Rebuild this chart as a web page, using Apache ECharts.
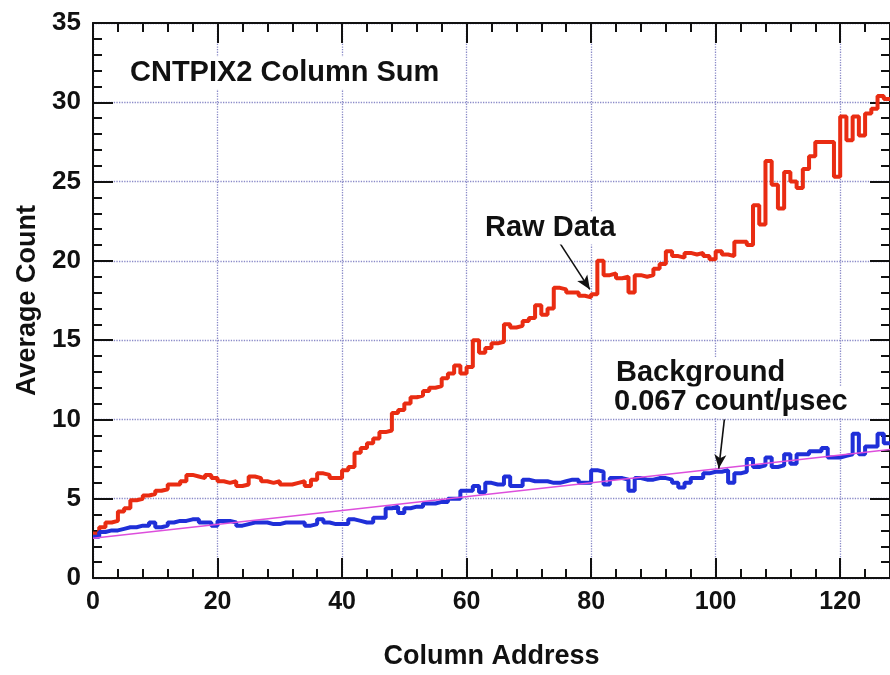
<!DOCTYPE html>
<html>
<head>
<meta charset="utf-8">
<script src="https://cdn.jsdelivr.net/npm/echarts@6/dist/echarts.min.js"></script>
<style>
  html, body { margin: 0; padding: 0; background: #ffffff; }
  #chart { width: 890px; height: 675px; }
</style>
</head>
<body>
<div id="chart"></div>
<script>
// Column index of each summed pixel column (0..127)
const columns = Array.from({ length: 128 }, (_, i) => i);

// Raw column sums (average count per column)
const rawCounts = [
  2.8, 3.2, 3.5, 3.6, 4.2, 4.4, 4.9, 5.0, 5.2, 5.3,
  5.5, 5.6, 5.9, 5.9, 6.1, 6.5, 6.4, 6.3, 6.5, 6.3,
  6.1, 6.0, 6.1, 5.8, 5.9, 6.4, 6.3, 6.1, 6.0, 6.1,
  5.9, 5.9, 6.0, 6.1, 5.8, 6.2, 6.6, 6.5, 6.3, 6.3,
  6.8, 7.0, 7.9, 8.2, 8.5, 8.8, 9.2, 9.3, 10.4, 10.6,
  11.0, 11.4, 11.5, 11.8, 12.0, 12.1, 12.6, 12.9, 13.4, 12.9,
  13.3, 15.0, 14.2, 14.5, 14.8, 14.9, 16.0, 15.8, 15.9, 16.2,
  16.4, 17.2, 16.6, 17.0, 18.3, 18.2, 18.0, 18.0, 17.8, 17.7,
  17.9, 20.0, 19.1, 19.2, 18.9, 19.0, 18.0, 19.1, 19.0, 19.1,
  19.5, 19.8, 20.6, 20.3, 20.2, 20.5, 20.4, 20.5, 20.3, 20.1,
  20.6, 20.4, 20.3, 21.2, 21.2, 21.0, 23.5, 22.3, 26.3, 24.8,
  23.3, 25.6, 25.0, 24.6, 25.8, 26.6, 27.5, 27.5, 27.5, 25.3,
  29.1, 27.6, 29.1, 27.9, 29.3, 29.6, 30.4, 30.2
];

// Background column sums
const backgroundCounts = [
  2.6, 2.9, 3.0, 3.0, 3.1, 3.2, 3.2, 3.3, 3.3, 3.5,
  3.2, 3.3, 3.5, 3.6, 3.6, 3.7, 3.7, 3.5, 3.5, 3.3,
  3.6, 3.6, 3.5, 3.3, 3.4, 3.5, 3.5, 3.5, 3.4, 3.4,
  3.5, 3.5, 3.5, 3.5, 3.3, 3.4, 3.7, 3.5, 3.4, 3.4,
  3.4, 3.7, 3.6, 3.5, 3.5, 3.8, 3.8, 4.4, 4.5, 4.1,
  4.4, 4.5, 4.5, 4.7, 4.7, 4.8, 4.8, 5.0, 5.0, 5.5,
  5.5, 5.8, 5.4, 6.0, 5.9, 5.9, 6.4, 5.8, 5.8, 6.2,
  6.1, 6.1, 6.1, 6.0, 6.0, 6.1, 6.2, 6.2, 6.0, 6.0,
  6.8, 6.7, 5.9, 6.3, 6.3, 6.2, 5.5, 6.3, 6.2, 6.2,
  6.3, 6.3, 6.2, 6.0, 5.7, 6.0, 6.3, 6.3, 6.6, 6.7,
  6.7, 6.8, 6.0, 6.6, 6.7, 7.5, 7.0, 7.1, 7.6, 7.0,
  7.1, 7.8, 7.2, 7.8, 7.8, 8.0, 8.0, 8.2, 7.6, 7.6,
  7.7, 7.8, 9.1, 7.8, 8.3, 8.3, 9.1, 8.5
];

// Linear background fit (0.067 count/usec)
const fitColumns = [0, 128];
const fitCounts = [2.5, 8.1];

// Axis ticks
const xTicks = { min: 0, max: 128, step: 20 };
const yTicks = { min: 0, max: 35, step: 5 };

// Arrow end points for the two callouts [column, count]
const rawArrow = [[75.0, 21.1], [79.8, 18.2]];
const bgArrow = [[101.4, 10.0], [100.5, 6.9]];

const FONT = "'Liberation Sans', Arial, Helvetica, sans-serif";

// Histogram-style step data: each column holds its value until the next column edge
function stepData(values) {
  const pts = columns.map((c, i) => [c, values[i]]);
  pts.push([columns[columns.length - 1] + 1, values[values.length - 1]]);
  return pts;
}

const gridColor = '#8a8ac8';

function axisCommon(extra) {
  return Object.assign({
    type: 'value',
    axisLine: { show: true, onZero: false, lineStyle: { color: '#111', width: 2 } },
    axisTick: { show: true, inside: true, length: 20, lineStyle: { color: '#111', width: 2 } },
    minorTick: { show: true, splitNumber: 5, length: 9, lineStyle: { color: '#111', width: 2 } },
    minorSplitLine: { show: false }
  }, extra);
}

const chart = echarts.init(document.getElementById('chart'), null, { renderer: 'canvas' });

chart.setOption({
  animation: false,
  backgroundColor: '#ffffff',
  grid: { left: 93, top: 23, width: 800, height: 560, containLabel: false },
  xAxis: [
    axisCommon({
      position: 'bottom',
      min: xTicks.min, max: xTicks.max, interval: xTicks.step,
      name: 'Column Address',
      nameLocation: 'middle',
      nameGap: 65,
      nameTextStyle: { fontFamily: FONT, fontWeight: 'bold', fontSize: 27, color: '#111' },
      axisLabel: { fontFamily: FONT, fontWeight: 'bold', fontSize: 25, color: '#111', margin: 12, showMaxLabel: false },
      splitLine: { show: true, lineStyle: { color: gridColor, type: 'dotted', width: 1.3 } }
    }),
    axisCommon({
      position: 'top',
      min: xTicks.min, max: xTicks.max, interval: xTicks.step,
      axisLabel: { show: false },
      splitLine: { show: false }
    })
  ],
  yAxis: [
    axisCommon({
      position: 'left',
      min: yTicks.min, max: yTicks.max, interval: yTicks.step,
      name: 'Average Count',
      nameLocation: 'middle',
      nameRotate: 90,
      nameGap: 48,
      nameTextStyle: { fontFamily: FONT, fontWeight: 'bold', fontSize: 27, color: '#111' },
      axisLabel: { fontFamily: FONT, fontWeight: 'bold', fontSize: 26, color: '#111', margin: 12 },
      splitLine: { show: true, lineStyle: { color: gridColor, type: 'dotted', width: 1.3 } }
    }),
    axisCommon({
      position: 'right',
      min: yTicks.min, max: yTicks.max, interval: yTicks.step,
      axisLabel: { show: false },
      splitLine: { show: false }
    })
  ],
  series: [
    {
      name: 'Raw Data',
      type: 'line',
      step: 'end',
      showSymbol: false,
      data: stepData(rawCounts),
      lineStyle: { color: '#e92c12', width: 4 },
      z: 3,
      markLine: {
        silent: true,
        symbol: ['none', 'arrow'],
        symbolSize: [9, 14],
        label: { show: false },
        lineStyle: { color: '#111', width: 1.6, type: 'solid' },
        data: [
          [{ coord: rawArrow[0] }, { coord: rawArrow[1] }],
          [{ coord: bgArrow[0] }, { coord: bgArrow[1] }]
        ]
      }
    },
    {
      name: 'Background',
      type: 'line',
      step: 'end',
      showSymbol: false,
      data: stepData(backgroundCounts),
      lineStyle: { color: '#1f2fd8', width: 4 },
      z: 3
    },
    {
      name: 'Fit',
      type: 'line',
      showSymbol: false,
      data: fitColumns.map((c, i) => [c, fitCounts[i]]),
      lineStyle: { color: '#dd4fdc', width: 1.5 },
      z: 4
    }
  ],
  graphic: [
    {
      type: 'text', x: 128, y: 73, z: 10,
      style: { text: 'CNTPIX2 Column Sum', font: 'bold 29px ' + FONT, fill: '#111',
               verticalAlign: 'middle', align: 'left', backgroundColor: '#ffffff', padding: [2, 2] }
    },
    {
      type: 'text', x: 483, y: 228, z: 10,
      style: { text: 'Raw Data', font: 'bold 29px ' + FONT, fill: '#111',
               verticalAlign: 'middle', align: 'left', backgroundColor: '#ffffff', padding: [2, 2] }
    },
    {
      type: 'text', x: 614, y: 373, z: 10,
      style: { text: 'Background', font: 'bold 29px ' + FONT, fill: '#111',
               verticalAlign: 'middle', align: 'left', backgroundColor: '#ffffff', padding: [1, 2] }
    },
    {
      type: 'text', x: 612, y: 402, z: 10,
      style: { text: '0.067 count/\u03bcsec', font: 'bold 29px ' + FONT, fill: '#111',
               verticalAlign: 'middle', align: 'left', backgroundColor: '#ffffff', padding: [1, 2] }
    }
  ]
});
</script>
</body>
</html>
